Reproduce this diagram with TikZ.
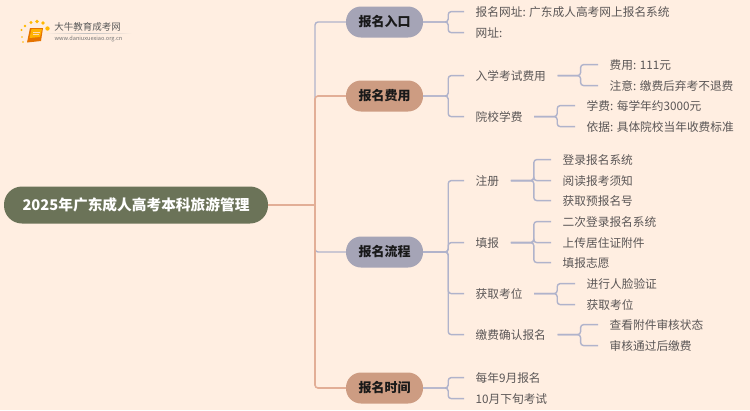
\documentclass[tikz,border=0pt]{standalone}
\usepackage{fontspec}
\setmainfont{Noto Sans CJK SC}
\definecolor{paper}{HTML}{FFEEE1}
\definecolor{rootc}{HTML}{6B7358}
\definecolor{catg}{HTML}{A5A4B6}
\definecolor{cato}{HTML}{CD9C82}
\definecolor{lineg}{HTML}{B0B3CB}
\definecolor{lineo}{HTML}{E2AE96}
\definecolor{leafc}{HTML}{5A5656}
\begin{document}
\begin{tikzpicture}[
	x=1pt, y=-1pt,
	rootbox/.style={ fill=rootc, text=white, rounded corners=18pt, minimum width=264pt, minimum height=37pt, inner sep=0pt, font=\fontsize{14.7}{16}\selectfont\bfseries },
	catbox/.style={ rounded corners=15pt, minimum width=77pt, minimum height=31pt, inner sep=0pt, text=black!90, font=\fontsize{13}{15}\selectfont\bfseries },
	leaf/.style={ anchor=west, inner xsep=11.5pt, inner ysep=0pt, yshift=-0.6pt, text=leafc, font=\fontsize{11.7}{14}\selectfont },
	linkg/.style={ draw=lineg, line width=1.4pt, rounded corners=3pt },
	linko/.style={ draw=lineo, line width=1.6pt, rounded corners=3pt }
]

\useasboundingbox (0,0) rectangle (750,410);
\fill[paper] (0,0) rectangle (750,410);

% logo
\node at (87.5,27) (logot) [inner sep=0pt,text=black!65,font=\fontsize{9.5}{11}\selectfont] {大牛教育成考网};
\node at (88.5,38.5) (logou) [inner sep=0pt,text=black!55,font=\fontsize{5.6}{7}\selectfont] {www.daniuxuexiao.org.cn};
\shade[left color=paper,right color=paper,middle color=black!25] (45,33) rectangle (132,33.7);
\foreach \px/\py/\pr in {22/37/0.9,21.5/30/1.1,25/26/1.4,31/22.5/1.7,37/21.5/1.9,43/23/1.9,47.5/28.5/2.2,23/42/0.8}
	\fill[orange!55!yellow] (\px,\py) circle (\pr);
\fill[orange!90!black] (30,28) -- (43,28) -- (41,41) -- (27,42.5) -- cycle;
\fill[orange!60!yellow] (31.5,29) -- (42,29) -- (40,37) -- (29.5,38) -- cycle;
\draw[white!70!orange,line width=0.6pt] (33,32) -- (39.5,32) (32.5,34.5) -- (39,34.5);

\node at (136,205) (root) [rootbox] {2025年广东成人高考本科旅游管理};

\node at (384.5,22) (entry) [catbox,fill=catg] {报名入口};
\node at (384.5,96) (fee) [catbox,fill=cato] {报名费用};
\node at (384.5,252) (flow) [catbox,fill=catg] {报名流程};
\node at (384.5,388) (time) [catbox,fill=cato] {报名时间};

\node at (464,11) (site) [leaf] {报名网址: 广东成人高考网上报名系统};
\node at (464,32) (url) [leaf] {网址:};

\node at (464,75) (exam) [leaf] {入学考试费用};
\node at (598,64) (examcost) [leaf] {费用: 111元};
\node at (598,85) (examnote) [leaf] {注意: 缴费后弃考不退费};
\node at (464,116) (tuition) [leaf] {院校学费};
\node at (575,105) (tuitcost) [leaf] {学费: 每学年约3000元};
\node at (575,126) (tuitbase) [leaf] {依据: 具体院校当年收费标准};

\node at (464,180) (reg) [leaf] {注册};
\node at (551,159) (reglog) [leaf] {登录报名系统};
\node at (551,180) (regread) [leaf] {阅读报考须知};
\node at (551,200) (regnum) [leaf] {获取预报名号};
\node at (464,242) (fill) [leaf] {填报};
\node at (551,221) (filllog) [leaf] {二次登录报名系统};
\node at (551,242) (fillup) [leaf] {上传居住证附件};
\node at (551,262) (fillwish) [leaf] {填报志愿};
\node at (464,293) (seat) [leaf] {获取考位};
\node at (575,283) (seatface) [leaf] {进行人脸验证};
\node at (575,304) (seatget) [leaf] {获取考位};
\node at (464,334) (pay) [leaf] {缴费确认报名};
\node at (598,324) (paycheck) [leaf] {查看附件审核状态};
\node at (598,345) (paydone) [leaf] {审核通过后缴费};

\node at (464,377) (sept) [leaf] {每年9月报名};
\node at (464,398) (oct) [leaf] {10月下旬考试};

\coordinate (trunk) at (315,205);
\draw[linkg] (trunk) -- (315,97) |- (entry.west);
\draw[linkg] (trunk) |- (flow.west);
\draw[linko] (root.east) -- (trunk);
\draw[linko] (trunk) |- (fee.west);
\draw[linko] (trunk) |- (time.west);

\foreach \a/\b in {entry/site,entry/url,fee/exam,fee/tuition,flow/reg,flow/fill,flow/seat,flow/pay,time/sept,time/oct}
	\draw[linkg] (\a.east) -- ++(25,0) |- (\b.west);
\foreach \a/\b in {exam/examcost,exam/examnote,tuition/tuitcost,tuition/tuitbase,reg/reglog,reg/regread,reg/regnum,fill/filllog,fill/fillup,fill/fillwish,seat/seatface,seat/seatget,pay/paycheck,pay/paydone}
	\draw[linkg] (\a.east) -- ++(23,0) |- (\b.west);

\end{tikzpicture}
\end{document}
